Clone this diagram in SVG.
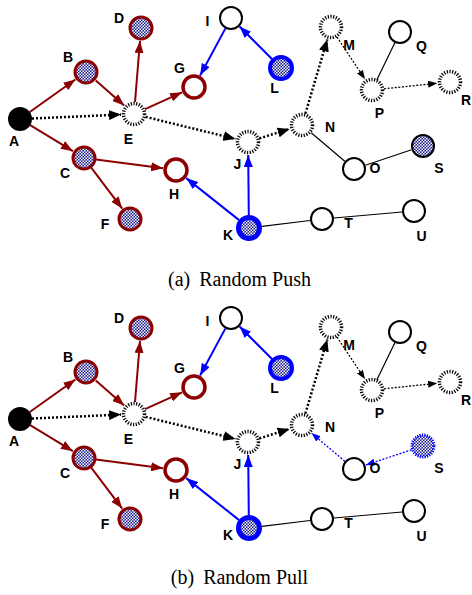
<svg xmlns="http://www.w3.org/2000/svg" width="472" height="595" viewBox="0 0 472 595">
<defs>
<pattern id="chk" width="3" height="3" patternUnits="userSpaceOnUse">
<rect width="3" height="3" fill="#1a1a8f"/>
<rect x="0" y="0" width="1.5" height="1.5" fill="#fff"/>
<rect x="1.5" y="1.5" width="1.5" height="1.5" fill="#fff"/>
</pattern>
<marker id="ar" markerUnits="userSpaceOnUse" markerWidth="13" markerHeight="9" refX="12" refY="4.5" orient="auto"><path d="M0,0 L12,4.5 L0,9 z" fill="#8b0000"/></marker>
<marker id="ab" markerUnits="userSpaceOnUse" markerWidth="13" markerHeight="9" refX="12" refY="4.5" orient="auto"><path d="M0,0 L12,4.5 L0,9 z" fill="#0000ff"/></marker>
<marker id="ak" markerUnits="userSpaceOnUse" markerWidth="13" markerHeight="10" refX="12" refY="5" orient="auto"><path d="M0,0 L12,5 L0,10 z" fill="#000"/></marker>
<marker id="aks" markerUnits="userSpaceOnUse" markerWidth="10" markerHeight="8" refX="9" refY="3.5" orient="auto"><path d="M0,0 L9,3.5 L0,7 z" fill="#000"/></marker>
<marker id="abs" markerUnits="userSpaceOnUse" markerWidth="10" markerHeight="8" refX="9" refY="3.5" orient="auto"><path d="M0,0 L9,3.5 L0,7 z" fill="#0000ff"/></marker>
</defs>
<style>
.red{stroke:#8b0000;stroke-width:2;fill:none;marker-end:url(#ar)}
.blu{stroke:#0000ff;stroke-width:2;fill:none;marker-end:url(#ab)}
.dot{stroke:#000;stroke-width:2.5;stroke-dasharray:2 2;fill:none;marker-end:url(#ak)}
.fdot{stroke:#000;stroke-width:1.3;stroke-dasharray:2 1.6;fill:none;marker-end:url(#aks)}
.bdot{stroke:#0000ff;stroke-width:1.3;stroke-dasharray:2 1.6;fill:none;marker-end:url(#abs)}
.ln{stroke:#000;stroke-width:1.2;fill:none}
.src{fill:#000}
.inf{fill:url(#chk);stroke:#8b0000;stroke-width:3}
.rec{fill:#fff;stroke:#8b0000;stroke-width:3.5}
.bin{fill:url(#chk);stroke:#0000ff;stroke-width:4}
.bink{fill:url(#chk);stroke:#0000ff;stroke-width:5}
.wht{fill:#fff;stroke:#000;stroke-width:2}
.dsh{fill:#fff;stroke:#000;stroke-width:3.5;stroke-dasharray:1.2 1.5}
.chk{fill:url(#chk);stroke:#000;stroke-width:2}
.bds{fill:url(#chk);stroke:#0000ff;stroke-width:3;stroke-dasharray:1.2 1.2}
.lb{font-family:"Liberation Sans",Arial,sans-serif;font-weight:bold;font-size:14px;fill:#000;text-anchor:middle}
.cap{font-family:"Liberation Serif","Times New Roman",serif;font-size:20px;fill:#000;text-anchor:middle}
</style>

<g id="panel-a">
<g id="a-edges">
<line class="red" x1="29.8" y1="112" x2="75.4" y2="79.5"/>
<line class="red" x1="30.2" y1="125.2" x2="72.9" y2="151.2"/>
<line class="dot" x1="32" y1="118.5" x2="121" y2="114.6"/>
<line class="red" x1="95.8" y1="80.6" x2="124.2" y2="105.4"/>
<line class="red" x1="135" y1="102" x2="140" y2="41"/>
<line class="red" x1="145" y1="109.1" x2="182.1" y2="92.3"/>
<line class="dot" x1="145.7" y1="116.9" x2="235.4" y2="138.9"/>
<line class="red" x1="96" y1="159.6" x2="163.1" y2="168.3"/>
<line class="red" x1="91.2" y1="167.6" x2="122.2" y2="208.6"/>
<line class="blu" x1="225.3" y1="28.6" x2="200.1" y2="75.5"/>
<line class="blu" x1="272.5" y1="59.5" x2="239.5" y2="26.5"/>
<line class="blu" x1="238.8" y1="219.9" x2="186.2" y2="178.1"/>
<line class="blu" x1="248.8" y1="215" x2="248.2" y2="155"/>
<line class="ln" x1="262" y1="226.4" x2="310" y2="220.5"/>
<line class="ln" x1="334" y1="218" x2="402" y2="212"/>
<line class="dot" x1="259.4" y1="138.4" x2="289.6" y2="128.9"/>
<line class="dot" x1="305.4" y1="113.5" x2="327.3" y2="39.5"/>
<line class="fdot" x1="337" y1="37" x2="364.9" y2="79.1"/>
<line class="fdot" x1="384" y1="88.8" x2="437.1" y2="83.3"/>
<line class="ln" x1="376.8" y1="80.1" x2="395.2" y2="41.9"/>
<line class="ln" x1="311.2" y1="132.8" x2="344.8" y2="161.2"/>
<line class="ln" x1="365.4" y1="165.2" x2="411.6" y2="149.8"/>
</g>
<g id="a-A"><circle class="src" cx="20" cy="119" r="12"/><text class="lb" x="14" y="146">A</text></g>
<g id="a-B"><circle class="inf" cx="86" cy="72" r="11"/><text class="lb" x="68" y="62">B</text></g>
<g id="a-C"><circle class="inf" cx="84" cy="158" r="11"/><text class="lb" x="65" y="178">C</text></g>
<g id="a-D"><circle class="inf" cx="141" cy="28" r="11"/><text class="lb" x="119" y="22.5">D</text></g>
<g id="a-E"><circle class="dsh" cx="134" cy="114" r="10.5"/><text class="lb" x="128.5" y="144">E</text></g>
<g id="a-F"><circle class="inf" cx="130" cy="219" r="11"/><text class="lb" x="105" y="229">F</text></g>
<g id="a-G"><circle class="rec" cx="194" cy="87" r="11"/><text class="lb" x="179.5" y="73">G</text></g>
<g id="a-H"><circle class="rec" cx="176" cy="170" r="11"/><text class="lb" x="174" y="199">H</text></g>
<g id="a-I"><circle class="wht" cx="231" cy="18" r="11"/><text class="lb" x="207.5" y="26">I</text></g>
<g id="a-J"><circle class="dsh" cx="248" cy="142" r="10.5"/><text class="lb" x="237.5" y="169">J</text></g>
<g id="a-K"><circle class="bink" cx="249" cy="228" r="10.5"/><text class="lb" x="228" y="240">K</text></g>
<g id="a-L"><circle class="bin" cx="281" cy="68" r="11"/><text class="lb" x="274.5" y="93">L</text></g>
<g id="a-M"><circle class="dsh" cx="331" cy="27" r="10.5"/><text class="lb" x="349" y="50">M</text></g>
<g id="a-N"><circle class="dsh" cx="302" cy="125" r="10.5"/><text class="lb" x="330" y="132">N</text></g>
<g id="a-O"><circle class="wht" cx="354" cy="169" r="11"/><text class="lb" x="375" y="173">O</text></g>
<g id="a-P"><circle class="dsh" cx="372" cy="90" r="10.5"/><text class="lb" x="379.5" y="118">P</text></g>
<g id="a-Q"><circle class="wht" cx="400" cy="32" r="11"/><text class="lb" x="421.5" y="50.5">Q</text></g>
<g id="a-R"><circle class="dsh" cx="450" cy="82" r="10.5"/><text class="lb" x="466" y="105">R</text></g>
<g id="a-S"><circle class="chk" cx="423" cy="146" r="11"/><text class="lb" x="439" y="173">S</text></g>
<g id="a-T"><circle class="wht" cx="322" cy="219" r="11"/><text class="lb" x="348.5" y="228">T</text></g>
<g id="a-U"><circle class="wht" cx="414" cy="211" r="11"/><text class="lb" x="421.5" y="240.5">U</text></g>
<text class="cap" x="239.5" y="286"><tspan>(a)</tspan><tspan dx="9">Random Push</tspan></text>
</g>

<g id="panel-b" transform="translate(0,300)">
<g id="b-edges">
<line class="red" x1="29.8" y1="112" x2="75.4" y2="79.5"/>
<line class="red" x1="30.2" y1="125.2" x2="72.9" y2="151.2"/>
<line class="dot" x1="32" y1="118.5" x2="121" y2="114.6"/>
<line class="red" x1="95.8" y1="80.6" x2="124.2" y2="105.4"/>
<line class="red" x1="135" y1="102" x2="140" y2="41"/>
<line class="red" x1="145" y1="109.1" x2="182.1" y2="92.3"/>
<line class="dot" x1="145.7" y1="116.9" x2="235.4" y2="138.9"/>
<line class="red" x1="96" y1="159.6" x2="163.1" y2="168.3"/>
<line class="red" x1="91.2" y1="167.6" x2="122.2" y2="208.6"/>
<line class="blu" x1="225.3" y1="28.6" x2="200.1" y2="75.5"/>
<line class="blu" x1="272.5" y1="59.5" x2="239.5" y2="26.5"/>
<line class="blu" x1="238.8" y1="219.9" x2="186.2" y2="178.1"/>
<line class="blu" x1="248.8" y1="215" x2="248.2" y2="155"/>
<line class="ln" x1="262" y1="226.4" x2="310" y2="220.5"/>
<line class="ln" x1="334" y1="218" x2="402" y2="212"/>
<line class="dot" x1="259.4" y1="138.4" x2="289.6" y2="128.9"/>
<line class="dot" x1="305.4" y1="113.5" x2="327.3" y2="39.5"/>
<line class="fdot" x1="337" y1="37" x2="364.9" y2="79.1"/>
<line class="fdot" x1="384" y1="88.8" x2="437.1" y2="83.3"/>
<line class="ln" x1="376.8" y1="80.1" x2="395.2" y2="41.9"/>
<line class="bdot" x1="344.8" y1="161.2" x2="311.5" y2="133.1"/>
<line class="bdot" x1="411.6" y1="149.8" x2="365.9" y2="165"/>
</g>
<g id="b-A"><circle class="src" cx="20" cy="119" r="12"/><text class="lb" x="14" y="146">A</text></g>
<g id="b-B"><circle class="inf" cx="86" cy="72" r="11"/><text class="lb" x="68" y="62">B</text></g>
<g id="b-C"><circle class="inf" cx="84" cy="158" r="11"/><text class="lb" x="65" y="178">C</text></g>
<g id="b-D"><circle class="inf" cx="141" cy="28" r="11"/><text class="lb" x="119" y="22.5">D</text></g>
<g id="b-E"><circle class="dsh" cx="134" cy="114" r="10.5"/><text class="lb" x="128.5" y="144">E</text></g>
<g id="b-F"><circle class="inf" cx="130" cy="219" r="11"/><text class="lb" x="105" y="229">F</text></g>
<g id="b-G"><circle class="rec" cx="194" cy="87" r="11"/><text class="lb" x="179.5" y="73">G</text></g>
<g id="b-H"><circle class="rec" cx="176" cy="170" r="11"/><text class="lb" x="174" y="199">H</text></g>
<g id="b-I"><circle class="wht" cx="231" cy="18" r="11"/><text class="lb" x="207.5" y="26">I</text></g>
<g id="b-J"><circle class="dsh" cx="248" cy="142" r="10.5"/><text class="lb" x="237.5" y="169">J</text></g>
<g id="b-K"><circle class="bink" cx="249" cy="228" r="10.5"/><text class="lb" x="228" y="240">K</text></g>
<g id="b-L"><circle class="bin" cx="281" cy="68" r="11"/><text class="lb" x="274.5" y="93">L</text></g>
<g id="b-M"><circle class="dsh" cx="331" cy="27" r="10.5"/><text class="lb" x="349" y="50">M</text></g>
<g id="b-N"><circle class="dsh" cx="302" cy="125" r="10.5"/><text class="lb" x="330" y="132">N</text></g>
<g id="b-O"><circle class="wht" cx="354" cy="169" r="11"/><text class="lb" x="375" y="173">O</text></g>
<g id="b-P"><circle class="dsh" cx="372" cy="90" r="10.5"/><text class="lb" x="379.5" y="118">P</text></g>
<g id="b-Q"><circle class="wht" cx="400" cy="32" r="11"/><text class="lb" x="421.5" y="50.5">Q</text></g>
<g id="b-R"><circle class="dsh" cx="450" cy="82" r="10.5"/><text class="lb" x="466" y="105">R</text></g>
<g id="b-S"><circle class="bds" cx="423" cy="146" r="11"/><text class="lb" x="439" y="173">S</text></g>
<g id="b-T"><circle class="wht" cx="322" cy="219" r="11"/><text class="lb" x="348.5" y="228">T</text></g>
<g id="b-U"><circle class="wht" cx="414" cy="211" r="11"/><text class="lb" x="421.5" y="240.5">U</text></g>
<text class="cap" x="239.5" y="284"><tspan>(b)</tspan><tspan dx="9">Random Pull</tspan></text>
</g>
</svg>
